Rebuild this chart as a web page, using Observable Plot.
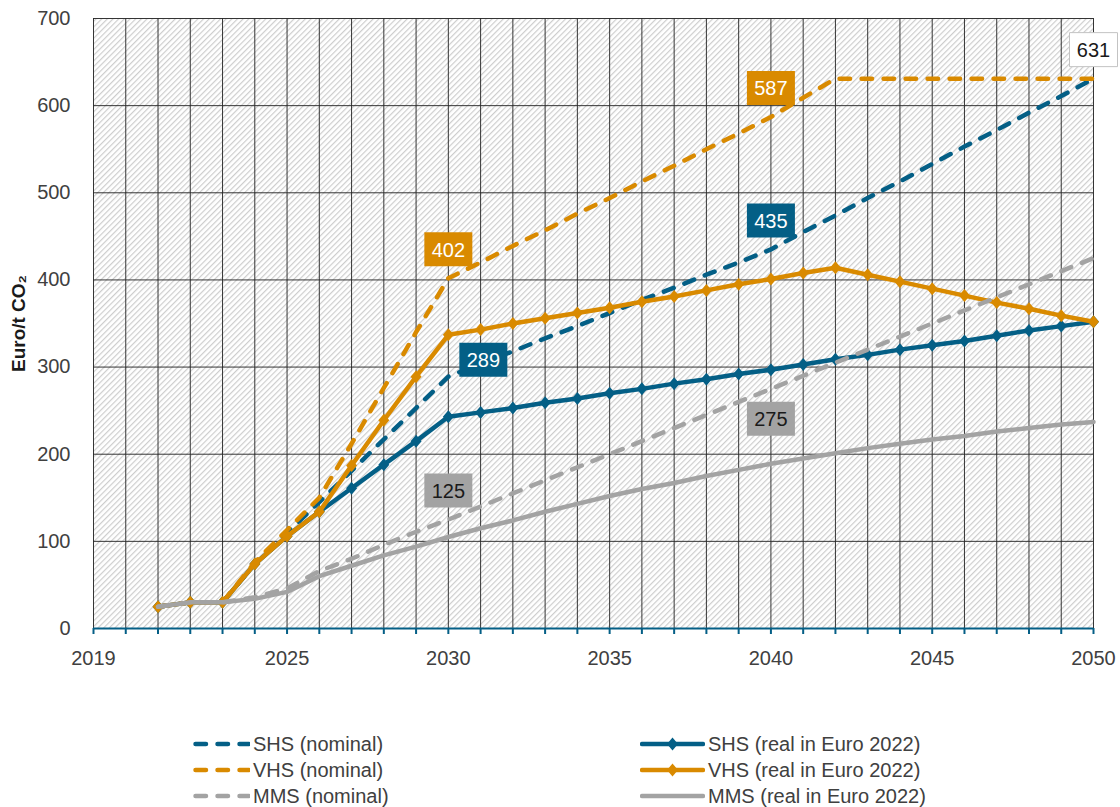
<!DOCTYPE html>
<html>
<head>
<meta charset="utf-8">
<script src="https://cdn.jsdelivr.net/npm/d3@7"></script>
<script src="https://cdn.jsdelivr.net/npm/@observablehq/plot@0.6"></script>
<style>
  body { margin: 0; background: #fff; font-family: "Liberation Sans", Arial, sans-serif; }
  #chart { width: 1120px; }
  #legend { position: relative; width: 1120px; height: 127px; }
  .item { position: absolute; display: flex; align-items: center; height: 26px;
          font-size: 20px; color: #404040; white-space: nowrap; }
  .item svg { margin-right: 3px; flex: none; }
</style>
</head>
<body>
<div id="chart"></div>
<div id="legend"></div>
<script>
// CO2 price paths, Euro per tonne
const years = [2021, 2022, 2023, 2024, 2025, 2026, 2027, 2028, 2029, 2030,
               2031, 2032, 2033, 2034, 2035, 2036, 2037, 2038, 2039, 2040,
               2041, 2042, 2043, 2044, 2045, 2046, 2047, 2048, 2049, 2050];

const shsNominal = [25, 30, 30, 74, 110, 145, 181, 217, 253, 289,
                    304, 318, 333, 347, 362, 377, 391, 406, 420, 435,
                    455, 474, 494, 513, 533, 553, 572, 592, 611, 631];
const vhsNominal = [25, 30, 30, 76, 113, 150, 212, 276, 340, 402,
                    420, 439, 457, 476, 494, 513, 531, 550, 568, 587,
                    609, 631, 631, 631, 631, 631, 631, 631, 631, 631];
const mmsNominal = [25, 30, 30, 36, 46, 66, 80, 96, 111, 125,
                    140, 155, 170, 185, 200, 215, 230, 245, 260, 275,
                    290, 305, 320, 335, 350, 365, 380, 395, 410, 425];
const shsReal    = [25, 30, 30, 74, 106, 134, 161, 188, 215, 243,
                    248, 253, 259, 264, 270, 275, 281, 286, 292, 297,
                    303, 309, 314, 320, 325, 330, 336, 342, 347, 352];
const vhsReal    = [25, 30, 30, 74, 106, 134, 187, 239, 289, 337,
                    343, 350, 356, 362, 368, 375, 381, 388, 395, 401,
                    408, 414, 406, 398, 390, 382, 374, 367, 359, 352];
const mmsReal    = [25, 30, 30, 34, 42, 60, 72, 84, 94, 105,
                    115, 124, 134, 143, 152, 160, 167, 175, 182, 189,
                    195, 201, 207, 212, 217, 221, 226, 230, 234, 237];

const seriesNames = ["SHS (nominal)", "SHS (real in Euro 2022)",
                     "VHS (nominal)", "VHS (real in Euro 2022)",
                     "MMS (nominal)", "MMS (real in Euro 2022)"];
const seriesValues = [shsNominal, shsReal, vhsNominal, vhsReal, mmsNominal, mmsReal];

// value labels: which series and which year is annotated
const labelSeries = ["VHS (nominal)", "VHS (nominal)", "SHS (nominal)", "SHS (nominal)",
                     "MMS (nominal)", "MMS (nominal)", "SHS (nominal)"];
const labelYears  = [2030, 2040, 2030, 2040, 2030, 2040, 2050];

const yTicks = [0, 100, 200, 300, 400, 500, 600, 700];
const xLabelled = [2019, 2025, 2030, 2035, 2040, 2045, 2050];

// ---- styling ----
const BLUE = "#045f86", ORANGE = "#d98a00", GRAY = "#a3a3a3";
const colorOf = name => name.startsWith("SHS") ? BLUE : name.startsWith("VHS") ? ORANGE : GRAY;
const isNominal = name => name.includes("nominal");

const diamond = { draw(ctx) { ctx.moveTo(0, -6.5); ctx.lineTo(5.5, 0); ctx.lineTo(0, 6.5); ctx.lineTo(-5.5, 0); ctx.closePath(); } };
const box = { draw(ctx) { ctx.rect(-24, -17, 48, 34); } };

const seriesRows = seriesNames.map((name, i) =>
  years.map((year, j) => ({ series: name, year, value: seriesValues[i][j] })));

const lineMarks = [];
seriesRows.forEach(rows => {
  const name = rows[0].series;
  const c = colorOf(name);
  if (isNominal(name)) {
    lineMarks.push(Plot.line(rows, { x: "year", y: "value", stroke: c, strokeWidth: 4.5,
      strokeDasharray: "10.5 11.5", strokeLinecap: "round", strokeLinejoin: "round" }));
  } else {
    lineMarks.push(Plot.line(rows, { x: "year", y: "value", stroke: c, strokeWidth: 4.5,
      strokeLinejoin: "round" }));
    if (!name.startsWith("MMS")) {
      lineMarks.push(Plot.dot(rows, { x: "year", y: "value", symbol: diamond, fill: c, stroke: "none" }));
    }
  }
});

// value labels in filled boxes
const labelMarks = [];
labelSeries.forEach((name, k) => {
  const year = labelYears[k];
  const value = seriesValues[seriesNames.indexOf(name)][years.indexOf(year)];
  const d = [{ year, value }];
  let dx = 0, dy = -29;
  if (name.startsWith("SHS") && year === 2030) { dx = 35; dy = -17; }
  if (name.startsWith("MMS") && year === 2040) { dy = 30; }
  const end = year === 2050;
  const boxFill = end ? "#ffffff" : colorOf(name);
  const textFill = end || name.startsWith("MMS") ? "#1a1a1a" : "#ffffff";
  labelMarks.push(Plot.dot(d, { x: "year", y: "value", symbol: box, dx, dy, fill: boxFill,
    stroke: end ? "#c3c3c3" : "none", strokeWidth: 1 }));
  labelMarks.push(Plot.text(d, { x: "year", y: "value", text: p => String(p.value), dx, dy: dy + 1,
    fill: textFill, fontSize: 20 }));
});

const chart = Plot.plot({
  width: 1120,
  height: 680,
  marginLeft: 93,
  marginRight: 27,
  marginTop: 18,
  marginBottom: 52,
  style: { fontFamily: '"Liberation Sans", Arial, sans-serif', background: "#fff" },
  x: { domain: [2019, 2050] },
  y: { domain: [0, 700] },
  marks: [
    Plot.frame({ fill: "url(#hatch)", stroke: "none" }),
    Plot.gridX(d3.range(2019, 2051), { stroke: "#2a2a2a", strokeOpacity: 0.95, strokeWidth: 1 }),
    Plot.gridY(yTicks.slice(1), { stroke: "#2a2a2a", strokeOpacity: 0.95, strokeWidth: 1 }),
    Plot.axisY(yTicks, { tickSize: 0, tickPadding: 23, fontSize: 20, fill: "#404040", label: null }),
    Plot.axisX(d3.range(2019, 2051), {
      tickSize: 6, tickPadding: 16, stroke: BLUE, strokeWidth: 2, fontSize: 20, fill: "#404040",
      tickFormat: d => xLabelled.includes(d) ? String(d) : "", label: null
    }),
    Plot.text(["Euro/t CO₂"], { frameAnchor: "left", rotate: -90, dx: -75, textAnchor: "middle",
      fontWeight: "bold", fontSize: 19, fill: "#1a1a1a" }),
    ...lineMarks,
    Plot.ruleY([0], { stroke: BLUE, strokeWidth: 2 }),
    ...labelMarks
  ]
});

// diagonal hatch used as the plot-area background
const ns = "http://www.w3.org/2000/svg";
const defs = document.createElementNS(ns, "defs");
defs.innerHTML = `<pattern id="hatch" patternUnits="userSpaceOnUse" width="4" height="4" patternTransform="rotate(45)">
  <rect width="4" height="4" fill="#ffffff"/>
  <line x1="0.6" y1="0" x2="0.6" y2="4" stroke="#cdcdcd" stroke-width="1.2"/>
</pattern>`;
chart.insertBefore(defs, chart.firstChild);
document.getElementById("chart").appendChild(chart);

// legend: two columns, three rows
const legend = document.getElementById("legend");
const legendLayout = [
  { name: "SHS (nominal)", left: 193, top: 51 },
  { name: "VHS (nominal)", left: 193, top: 77 },
  { name: "MMS (nominal)", left: 193, top: 103 },
  { name: "SHS (real in Euro 2022)", left: 640, top: 51 },
  { name: "VHS (real in Euro 2022)", left: 640, top: 77 },
  { name: "MMS (real in Euro 2022)", left: 640, top: 103 }
];
legendLayout.forEach(({ name, left, top }) => {
  const c = colorOf(name);
  const item = document.createElement("div");
  item.className = "item";
  item.style.left = left + "px";
  item.style.top = top + "px";
  let sw;
  if (isNominal(name)) {
    sw = `<svg width="57" height="16"><line x1="2.5" y1="8" x2="56" y2="8" stroke="${c}" stroke-width="4.5"
      stroke-dasharray="10.5 11.5" stroke-linecap="round"/></svg>`;
  } else {
    const mark = name.startsWith("MMS") ? "" :
      `<path d="M32.5,1.5L38,8L32.5,14.5L27,8Z" fill="${c}"/>`;
    sw = `<svg width="65" height="16"><line x1="2" y1="8" x2="63" y2="8" stroke="${c}" stroke-width="4.5"
      stroke-linecap="round"/>${mark}</svg>`;
  }
  item.innerHTML = sw + `<span>${name}</span>`;
  legend.appendChild(item);
});
</script>
</body>
</html>
